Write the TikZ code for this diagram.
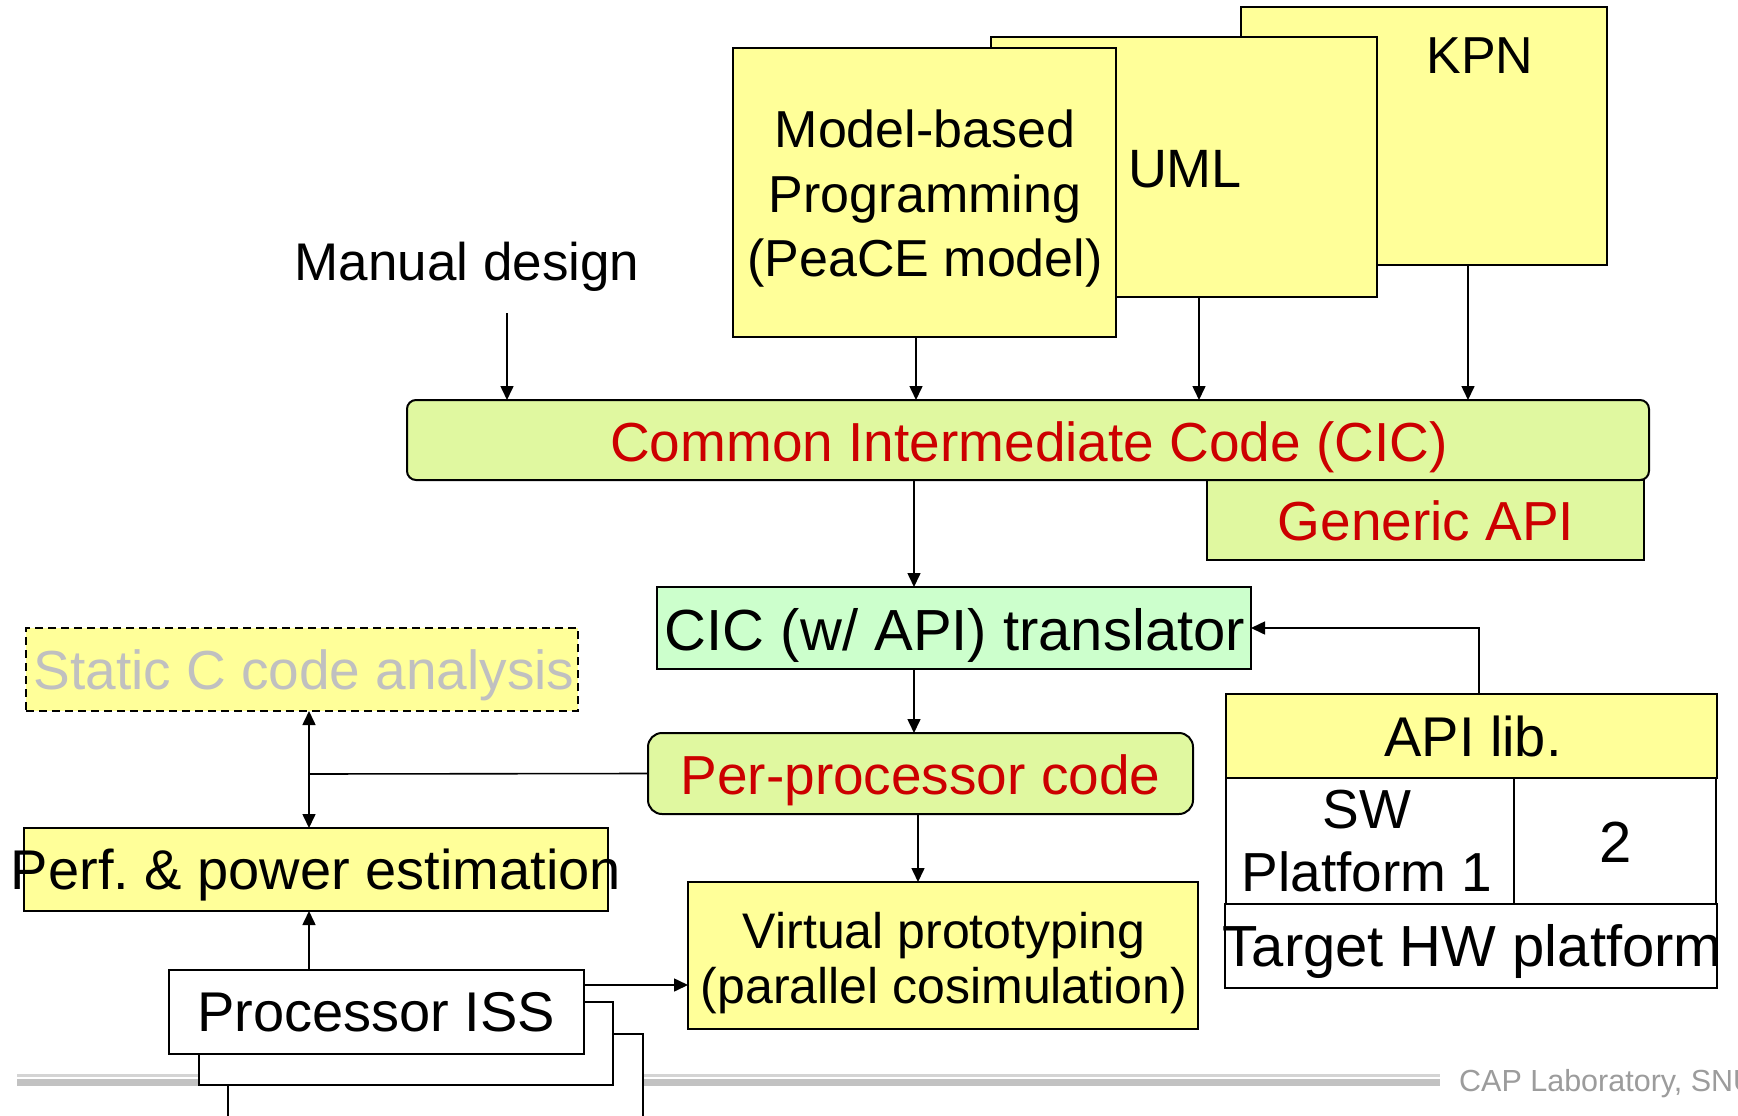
\documentclass[tikz,border=0pt]{standalone}
\usepackage{fontspec}
\setmainfont{Liberation Sans}
\usetikzlibrary{arrows.meta}

\definecolor{paleyellow}{HTML}{FFFF99}
\definecolor{cicgreen}{HTML}{E0F8A0}
\definecolor{transgreen}{HTML}{CCFFCC}
\definecolor{codered}{HTML}{CC0000}
\definecolor{ghost}{HTML}{C0C0C0}
\definecolor{rulelight}{HTML}{D4D4D4}
\definecolor{ruledark}{HTML}{C2C2C2}
\definecolor{footgray}{HTML}{9C9C9C}

\newcommand{\fsz}[2][1.2]{\fontsize{#2}{#1\dimexpr #2pt\relax}\selectfont}

\begin{document}
\begin{tikzpicture}[x=1pt,y=-1pt,
  frame/.style={draw=black, line width=2pt, inner sep=0pt, outer sep=0pt,
                anchor=north west},
  yellowbox/.style={frame, fill=paleyellow},
  greenbox/.style={frame, fill=cicgreen},
  whitebox/.style={frame, fill=white},
  txt/.style={inner sep=0pt, outer sep=0pt, anchor=base, text=black},
  redtxt/.style={txt, text=codered},
  arr/.style={line width=1.6pt, -{Triangle[length=14pt,width=13pt]}},
  plain/.style={line width=1.6pt},
]
\fill[white] (0,0) rectangle (1738,1116);
\useasboundingbox (0,0) rectangle (1738,1116);

% footer rule, lying behind the ISS stack
\draw[rulelight, line width=2.5pt] (17,1075.5) -- (1440,1075.5);
\draw[ruledark, line width=7pt] (17,1082.5) -- (1440,1082.5);
\node[inner sep=0pt, anchor=base west, text=footgray] (footer) at (1459,1091)
  {\fsz{30.5}CAP Laboratory, SNU};

% programming models (stacked sheets)
\node[yellowbox, minimum width=366pt, minimum height=258pt] (kpn) at (1241,7) {};
\node[yellowbox, minimum width=386pt, minimum height=260pt] (uml) at (991,37) {};
\node[yellowbox, minimum width=383pt, minimum height=289pt] (model) at (733,48) {};
\node[txt] (kpntxt) at (1480,74) {\fsz{52}KPN};
\node[txt] (umltxt) at (1185,187) {\fsz{54}UML};
\node[txt, anchor=center, align=center, font={\fsz[1.24]{52}}] (modeltxt) at (925,199)
  {Model-based\\Programming\\(PeaCE model)};
\node[txt] (manual) at (467,280) {\fsz{53}Manual design};

% common intermediate code
\node[greenbox, minimum width=437pt, minimum height=80pt] (gapi) at (1207,480) {};
\node[greenbox, rounded corners=9pt, minimum width=1242pt, minimum height=80pt] (cic) at (407,400) {};
\node[redtxt] (cictxt) at (1029,461) {\fsz{55}Common Intermediate Code (CIC)};
\node[redtxt] (gapitxt) at (1426,540) {\fsz{55}Generic API};

% translator and per-processor code
\node[frame, fill=transgreen, minimum width=594pt, minimum height=82pt] (trans) at (657,587) {};
\node[txt] (transtxt) at (955,650) {\fsz{58}CIC (w/ API) translator};
\node[greenbox, rounded corners=14pt, minimum width=545pt, minimum height=81pt] (perproc) at (648,733) {};
\node[redtxt] (perproctxt) at (920.5,794) {\fsz{55}Per-processor code};

% analysis and estimation
\node[yellowbox, dashed, dash pattern=on 8pt off 5pt, line width=1.6pt,
      minimum width=552pt, minimum height=83pt] (static) at (26,628) {};
\node[txt, text=ghost] (statictxt) at (304,689) {\fsz{55}Static C code analysis};
\node[yellowbox, minimum width=584pt, minimum height=83pt] (perf) at (24,828) {};
\node[txt] (perftxt) at (316,889) {\fsz{56}Perf.\ \& power estimation};

% processor ISS stack
\node[whitebox, minimum width=415pt, minimum height=120pt] (iss3) at (228,1034) {};
\node[whitebox, minimum width=414pt, minimum height=83pt] (iss2) at (199,1002) {};
\node[whitebox, minimum width=415pt, minimum height=84pt] (iss) at (169,970) {};
\node[txt] (isstxt) at (376,1031) {\fsz{56}Processor ISS};

% virtual prototyping
\node[yellowbox, minimum width=510pt, minimum height=147pt] (virt) at (688,882) {};
\node[txt, anchor=center, align=center, font={\fsz[1.1]{50}}] (virttxt) at (944,963)
  {Virtual prototyping\\(parallel cosimulation)};

% API library on the platforms
\node[yellowbox, minimum width=491pt, minimum height=84pt] (api) at (1226,694) {};
\node[txt] (apitxt) at (1473,756) {\fsz{56}API lib.};
\node[whitebox, minimum width=288pt, minimum height=126pt] (sw) at (1226,778) {};
\node[whitebox, minimum width=202pt, minimum height=126pt] (two) at (1514,778) {};
\node[txt, anchor=center, align=center, font={\fsz[1.16]{55}}] (swtxt) at (1367,841)
  {SW\\Platform 1};
\node[txt] (twotxt) at (1616,862) {\fsz{58}2};
\node[whitebox, minimum width=492pt, minimum height=84pt] (hw) at (1225,904) {};
\node[txt] (hwtxt) at (1472.5,966) {\fsz{58}Target HW platform};

% connector columns
\coordinate (mstart) at (507,313);
\coordinate (mx) at (916,0);
\coordinate (ux) at (1199,0);
\coordinate (kx) at (1468,0);
\coordinate (cx) at (914,0);
\coordinate (vx) at (918,0);
\coordinate (ax) at (1479,0);
\coordinate (jn) at (309,774);
\coordinate (issout) at (584,985);

% connectors
\draw[arr] (mstart) -- (cic.north -| mstart);
\draw[arr] (model.south -| mx) -- (cic.north -| mx);
\draw[arr] (uml.south -| ux) -- (cic.north -| ux);
\draw[arr] (kpn.south -| kx) -- (cic.north -| kx);
\draw[arr] (cic.south -| cx) -- (trans.north -| cx);
\draw[arr] (api.north -| ax) |- (trans.east);
\draw[arr] (trans.south -| cx) -- (perproc.north -| cx);
\draw[arr] (perproc.south -| vx) -- (virt.north -| vx);
\draw[plain] (perproc.west) -- (jn);
\draw[arr] (jn) -- (static.south -| jn);
\draw[arr] (jn) -- (perf.north -| jn);
\draw[arr] (iss.north -| jn) -- (perf.south -| jn);
\draw[arr] (iss.east |- issout) -- (virt.west |- issout);
\end{tikzpicture}
\end{document}
